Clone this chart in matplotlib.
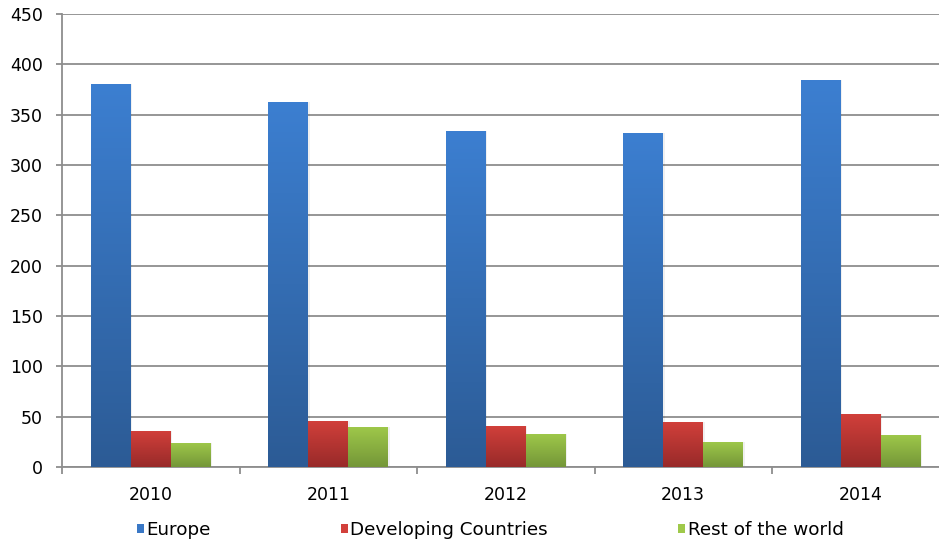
import numpy as np
import matplotlib
matplotlib.use('Agg')
import matplotlib.pyplot as plt
from matplotlib.colors import LinearSegmentedColormap
from matplotlib.patches import Patch

font = {'family': 'DejaVu Sans', 'size': 12.5}
matplotlib.rc('font', **font)

years = ['2010', '2011', '2012', '2013', '2014']
europe = [380, 363, 334, 332, 384]
developing = [36, 46, 41, 45, 53]
rest = [24, 40, 33, 25, 32]

series = [('Europe', europe, '#3c7fd1', '#2c5b95'),
          ('Developing Countries', developing, '#d2403b', '#982a29'),
          ('Rest of the world', rest, '#9fc94a', '#749638')]

fig = plt.figure(figsize=(9.39, 5.42), dpi=100)
ax = fig.add_axes([62/939, 75/542, 887.5/939, 453/542])

x = np.arange(len(years))
w = 0.225
grad = np.linspace(1, 0, 256).reshape(-1, 1)

handles = []
for j, (name, vals, top, bot) in enumerate(series):
    cmap = LinearSegmentedColormap.from_list(name, [bot, top])
    bars = ax.bar(x + (j - 1) * w, vals, width=w, color='none',
                  edgecolor='none', zorder=3)
    for b in bars:
        x0, y0 = b.get_x(), b.get_y()
        # soft shadow
        ax.bar(x0 + b.get_width() / 2 + 0.008, b.get_height(), width=w,
               bottom=0, color='#000000', alpha=0.06, zorder=2.5,
               align='center')
        im = ax.imshow(grad, cmap=cmap, aspect='auto', zorder=3,
                       extent=[x0, x0 + b.get_width(), 0, b.get_height()],
                       interpolation='bicubic')
        im.set_clip_path(b)
    handles.append(Patch(facecolor=(top if j else '#3a78c6'),
                         edgecolor='none', label=name))

ax.set_xlim(-0.5, 4.5)
ax.set_ylim(0, 450)
ax.set_yticks(np.arange(0, 451, 50))
ax.set_xticks(x)
ax.set_xticklabels(years)
ax.set_xticks(np.arange(-0.5, 5, 1), minor=True)

ax.grid(True, axis='y', color='#8e8e8e', linewidth=1.3, zorder=0)
ax.set_axisbelow(True)
for s in ['top', 'right']:
    ax.spines[s].set_visible(False)
for s in ['left', 'bottom']:
    ax.spines[s].set_color('#8e8e8e')
    ax.spines[s].set_linewidth(1.3)

ax.tick_params(axis='y', length=4.3, width=1.3, color='#8e8e8e', pad=9.5,
               labelcolor='black')
ax.tick_params(axis='x', which='major', length=0, pad=14)
ax.tick_params(axis='x', which='minor', length=5, width=1.3,
               color='#8e8e8e')

fig.legend(handles=handles, loc='center', bbox_to_anchor=(0.522, 0.022),
           ncol=3, frameon=False, handlelength=0.4, handleheight=0.4,
           handletextpad=0.12, columnspacing=7.1, fontsize=13.2)

fig.savefig('out.png', dpi=100)
